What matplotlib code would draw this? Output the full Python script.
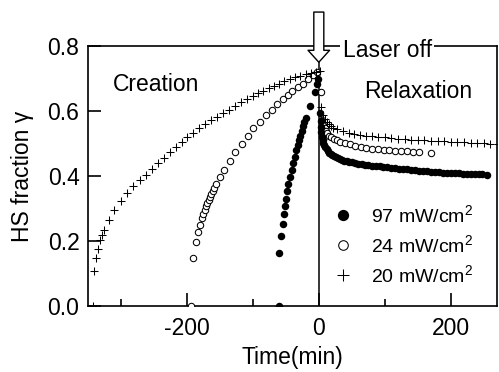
import matplotlib
matplotlib.use('Agg')
import matplotlib.pyplot as plt
from matplotlib.ticker import FixedLocator, FormatStrFormatter

plt.rcParams['font.family'] = ['Liberation Sans', 'DejaVu Sans']
plt.rcParams['mathtext.fontset'] = 'custom'
plt.rcParams['mathtext.rm'] = 'Liberation Sans'
plt.rcParams['mathtext.default'] = 'regular'
plt.rcParams['axes.unicode_minus'] = False

# 97 mW/cm2 (filled circles)
t97_on = [-60, -60, -57, -55, -53, -51, -50, -48, -46, -44, -41, -39, -36, -34, -32,
          -30, -28, -26, -24, -22, -20, -14, -6, -3.5, -1]
g97_on = [0.0, 0.164, 0.215, 0.252, 0.282, 0.308, 0.331, 0.355, 0.377, 0.398, 0.418,
          0.439, 0.459, 0.48, 0.495, 0.51, 0.525, 0.54, 0.553, 0.566, 0.58, 0.615,
          0.66, 0.685, 0.698]
t97_off = [2.5, 3, 3.5, 4, 5, 6, 7, 8, 10, 12, 14, 16, 18, 20, 23, 26, 29, 32, 35, 38,
           42, 46, 50, 55, 60, 65, 70, 75, 80, 86, 92, 98, 104, 110, 116, 122, 128,
           134, 140, 146, 152, 158, 164, 170, 176, 182, 188, 194, 200, 206, 212, 218,
           224, 230, 236, 242, 248, 255]
g97_off = [0.593, 0.57, 0.55, 0.535, 0.52, 0.51, 0.503, 0.497, 0.49, 0.484, 0.478,
           0.472, 0.468, 0.464, 0.461, 0.458, 0.455, 0.452, 0.45, 0.448, 0.446, 0.444,
           0.442, 0.44, 0.438, 0.436, 0.435, 0.433, 0.432, 0.431, 0.43, 0.429, 0.427,
           0.426, 0.425, 0.423, 0.422, 0.421, 0.419, 0.418, 0.417, 0.416, 0.415, 0.414,
           0.413, 0.412, 0.411, 0.41, 0.41, 0.409, 0.409, 0.408, 0.408, 0.407, 0.407,
           0.406, 0.406, 0.405]

# 24 mW/cm2 (open circles)
t24_on = [-193, -190, -186, -183, -180, -177, -175, -173, -171, -169, -167, -165, -163,
          -161, -159, -156, -150, -144, -134, -127, -117, -107, -99, -89, -80, -71,
          -63, -55, -47, -40, -31, -24, -16, -9, -2.5]
g24_on = [0.0, 0.149, 0.196, 0.227, 0.251, 0.272, 0.285, 0.297, 0.308, 0.318, 0.328,
          0.337, 0.346, 0.354, 0.362, 0.375, 0.398, 0.418, 0.447, 0.473, 0.50, 0.523,
          0.547, 0.567, 0.588, 0.605, 0.622, 0.636, 0.649, 0.662, 0.675, 0.685, 0.698,
          0.711, 0.721]
t24_off = [3, 5, 7, 9, 11, 13, 16, 19, 23, 27, 32, 40, 47, 55, 64, 72, 81, 90, 99, 107,
           116, 125, 134, 143, 152, 170]
g24_off = [0.66, 0.572, 0.557, 0.547, 0.539, 0.532, 0.525, 0.519, 0.514, 0.51, 0.506,
           0.501, 0.498, 0.494, 0.49, 0.487, 0.484, 0.482, 0.48, 0.479, 0.478, 0.477,
           0.476, 0.474, 0.473, 0.472]

# 20 mW/cm2 (plus)
t20_on = [-342, -341, -338, -335, -332, -329, -326, -318, -310, -300, -291, -282, -271,
          -262, -253, -243, -235, -226, -217, -208, -199, -190, -181, -172, -163, -154,
          -145, -136, -127, -118, -109, -100, -92, -84, -76, -68, -60, -52, -44, -36,
          -28, -20, -12, -5, 2]
g20_on = [0.0, 0.109, 0.147, 0.175, 0.203, 0.218, 0.234, 0.265, 0.295, 0.323, 0.347,
          0.369, 0.388, 0.405, 0.422, 0.441, 0.457, 0.475, 0.49, 0.505, 0.52, 0.534,
          0.548, 0.56, 0.572, 0.583, 0.594, 0.605, 0.616, 0.627, 0.638, 0.646, 0.655,
          0.663, 0.671, 0.678, 0.685, 0.692, 0.698, 0.704, 0.709, 0.713, 0.717, 0.72,
          0.722]
t20_off = [3, 6, 9, 12, 15, 18, 22, 27, 36, 45, 54, 63, 72, 81, 90, 100, 110, 120, 130,
           140, 150, 160, 170, 180, 190, 200, 210, 220, 230, 240, 250, 260, 272]
g20_off = [0.613, 0.588, 0.575, 0.566, 0.559, 0.553, 0.548, 0.544, 0.538, 0.533, 0.53,
           0.527, 0.525, 0.523, 0.521, 0.519, 0.517, 0.515, 0.514, 0.512, 0.511, 0.51,
           0.509, 0.508, 0.507, 0.506, 0.505, 0.504, 0.503, 0.502, 0.501, 0.50, 0.50]

labels = ['97 mW/cm$^2$', '24 mW/cm$^2$', '20 mW/cm$^2$']


def main() -> None:
    fig = plt.figure(figsize=(4.99, 3.72), dpi=100)
    ax = fig.add_axes([0.176, 0.177, 0.82, 0.699])

    ax.plot(t97_on + t97_off, g97_on + g97_off, 'o', color='black', ms=5.4,
            mew=0, label=labels[0], zorder=4)
    ax.plot(t24_on + t24_off, g24_on + g24_off, 'o', mfc='white', mec='black',
            ms=4.6, mew=0.75, label=labels[1], zorder=3)
    ax.plot(t20_on + t20_off, g20_on + g20_off, '+', color='black', ms=5.8,
            mew=0.75, label=labels[2], zorder=3)

    ax.axvline(0, color='black', lw=1.1, zorder=2)

    ax.set_xlim(-350, 270)
    ax.set_ylim(0, 0.8)
    ax.xaxis.set_major_locator(FixedLocator([-200, 0, 200]))
    ax.xaxis.set_minor_locator(FixedLocator([-300, -100, 100]))
    ax.yaxis.set_major_locator(FixedLocator([0, 0.2, 0.4, 0.6, 0.8]))
    ax.yaxis.set_major_formatter(FormatStrFormatter('%.1f'))
    ax.tick_params(which='both', direction='in', width=1.2, labelsize=16.5)
    ax.tick_params(which='major', length=9.5)
    ax.tick_params(which='minor', length=5)
    ax.tick_params(axis='x', pad=8)
    ax.tick_params(axis='y', pad=6)
    for spine in ax.spines.values():
        spine.set_linewidth(1.2)

    ax.set_xlabel('Time(min)', fontsize=16.5, labelpad=4)
    ax.set_ylabel('HS fraction \u03b3', fontsize=16.5, labelpad=10)

    ax.text(-312, 0.683, 'Creation', fontsize=16.5, va='center')
    ax.text(69, 0.66, 'Relaxation', fontsize=16.5, va='center')
    ax.text(36, 0.958, 'Laser off', fontsize=16.5, va='baseline',
            transform=ax.get_xaxis_transform(), zorder=6,
            bbox=dict(boxstyle='square,pad=0.1', fc='white', ec='none'))

    ax.annotate('', xy=(0, 0.938), xycoords=('data', 'axes fraction'),
                xytext=(0, 1.131), textcoords=('data', 'axes fraction'),
                annotation_clip=False, zorder=7,
                arrowprops=dict(arrowstyle='simple,head_length=0.86,head_width=1.55,tail_width=0.72',
                                mutation_scale=10, fc='white', ec='black', lw=1,
                                shrinkA=0, shrinkB=0))

    ax.legend(loc='center left', bbox_to_anchor=(0.599, 0.235), frameon=False,
              fontsize=14, markerscale=1.5, handlelength=1.0, handletextpad=0.94,
              borderpad=0, borderaxespad=0, labelspacing=0.42)

    fig.savefig('out.png', dpi=100)


if __name__ == '__main__':
    main()
